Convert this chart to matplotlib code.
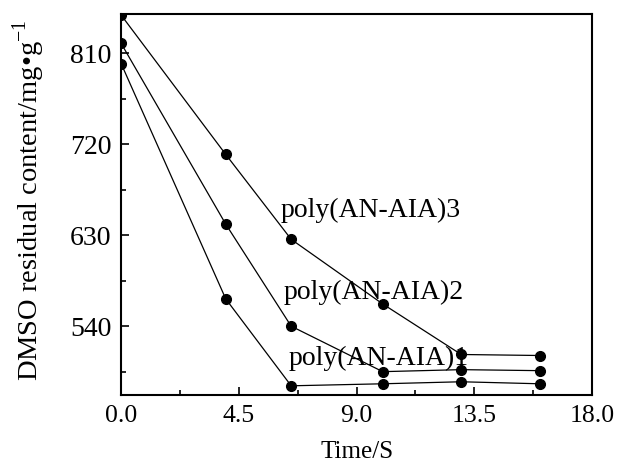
import matplotlib
matplotlib.use("Agg")
import matplotlib.pyplot as plt
from matplotlib.ticker import MultipleLocator

plt.rcParams['font.family'] = ['Liberation Serif', 'DejaVu Serif']
plt.rcParams['mathtext.fontset'] = 'custom'
plt.rcParams['mathtext.rm'] = 'Liberation Serif'

# time points (s)
time = [0, 4, 6.5, 10, 13, 16]
# DMSO residual content, mg/g
poly1 = [800, 567, 481, 483, 485, 483]
poly2 = [820, 641, 540, 495, 497, 496]
poly3 = [848, 710, 626, 562, 512, 511]

labels = ['poly(AN-AIA)1', 'poly(AN-AIA)2', 'poly(AN-AIA)3']
label_x = [6.4, 6.2, 6.1]
label_y = [508, 573, 655]

fig = plt.figure(figsize=(6.18, 4.69), dpi=100)
ax = fig.add_axes([0.196, 0.158, 0.762, 0.812])

for s in [poly1, poly2, poly3]:
    ax.plot(time, s, '-o', color='black', lw=0.9, ms=7)

for t, x, y in zip(labels, label_x, label_y):
    ax.text(x, y, t, fontsize=20, va='center', ha='left')

ax.set_xlim(0, 18)
ax.set_ylim(472, 849)
ax.xaxis.set_minor_locator(MultipleLocator(2.25))
ax.yaxis.set_minor_locator(MultipleLocator(45))
ax.set_yticks([540, 630, 720, 810])
ax.set_xticks([0, 4.5, 9, 13.5, 18])
ax.set_xticklabels(['0.0', '4.5', '9.0', '13.5', '18.0'])

ax.tick_params(which='both', direction='in', width=1.2)
ax.tick_params(axis='y', labelsize=20)
ax.tick_params(axis='x', labelsize=18.5)
ax.tick_params(which='major', length=6, pad=7)
ax.tick_params(which='minor', length=3.5)
for sp in ax.spines.values():
    sp.set_linewidth(1.5)

ax.set_xlabel('Time/S', fontsize=18, va='center')
ax.xaxis.set_label_coords(0.5, -0.15)
ax.set_ylabel('DMSO residual content/mg•g$^{\\mathregular{-1}}$', fontsize=20.5, va='center')
ax.yaxis.set_label_coords(-0.197, 0.51)

fig.savefig('out.png', dpi=100)
